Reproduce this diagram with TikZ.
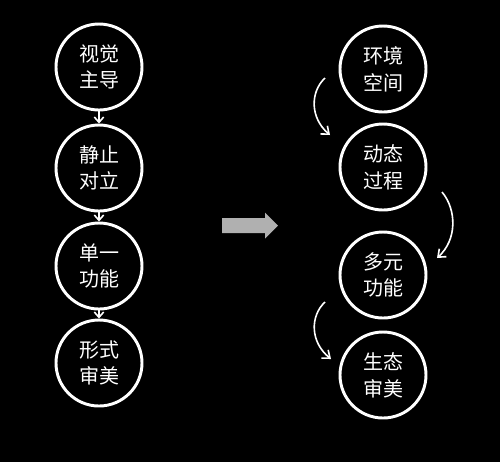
\documentclass[tikz,border=0pt]{standalone}
\usepackage{fontspec}
\setmainfont{Noto Sans CJK SC}
\usetikzlibrary{arrows.meta}
\definecolor{arrowgray}{RGB}{176,176,176}
\begin{document}
\begin{tikzpicture}[x=0.75pt,y=-0.75pt,
  circ/.style={circle,draw=white,line width=2.2pt,minimum size=86*0.75pt,inner sep=0pt,
    text=white,font=\fontsize{15pt}{20pt}\selectfont,align=center},
  sarrow/.style={draw=white,line width=1.2pt,-{Straight Barb[length=4pt,width=7pt]}},
  carrow/.style={draw=white,line width=1.2pt,-{Straight Barb[length=5pt,width=8pt]}}]
\fill[black] (0,0) rectangle (500,462);
\useasboundingbox (0,0) rectangle (500,462);
% left column
\node[circ] (l1) at (99,67) {视觉\\主导};
\node[circ] (l2) at (99,168) {静止\\对立};
\node[circ] (l3) at (99,266) {单一\\功能};
\node[circ] (l4) at (99,363) {形式\\审美};
\draw[sarrow] (l1.south) -- (l2.north);
\draw[sarrow] (l2.south) -- (l3.north);
\draw[sarrow] (l3.south) -- (l4.north);
% middle arrow
\fill[arrowgray]
  (222,218) -- (265,218) -- (265,212.5) -- (278,225.5) -- (265,238.5) -- (265,233) -- (222,233) -- cycle;
% right column
\node[circ] (r1) at (383,69) {环境\\空间};
\node[circ] (r2) at (383,167) {动态\\过程};
\node[circ] (r3) at (383,275) {多元\\功能};
\node[circ] (r4) at (383,375) {生态\\审美};
\coordinate (a1s) at (325,78);
\coordinate (a1e) at (330,135);
\coordinate (a2s) at (442,192);
\coordinate (a2e) at (437,258);
\coordinate (a3s) at (325,302);
\coordinate (a3e) at (331,359);
\draw[carrow] (a1s) .. controls (310,92) and (310,118) .. (a1e);
\draw[carrow] (a2s) .. controls (457,210) and (457,240) .. (a2e);
\draw[carrow] (a3s) .. controls (310,316) and (310,342) .. (a3e);
\end{tikzpicture}
\end{document}
